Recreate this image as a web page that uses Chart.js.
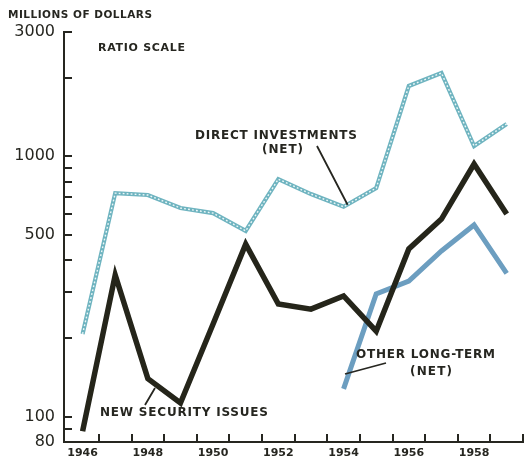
<!DOCTYPE html>
<html><head><meta charset="utf-8">
<script src="https://cdn.jsdelivr.net/npm/chart.js@4/dist/chart.umd.min.js"></script>
<style>html,body{margin:0;padding:0;background:#fff;}canvas{display:block;}</style>
</head><body>
<canvas id="c" width="524" height="456"></canvas>
<script>
const years = [1946,1947,1948,1949,1950,1951,1952,1953,1954,1955,1956,1957,1958,1959];
const newSecurityIssues = [88,350,140,113,227,460,271,259,291,213,441,574,934,600];
const directInvestments = [208,722,710,633,605,517,817,716,640,755,1862,2088,1095,1331];
const otherLongTerm = [null,null,null,null,null,null,null,null,128,296,332,433,545,355];
const yTickValues = [80,90,100,200,300,400,500,600,700,800,900,1000,2000,3000];
const yTickLabels = {80:'80',100:'100',500:'500',1000:'1000',3000:'3000'};
const xLabelYears = [1946,1948,1950,1952,1954,1956,1958];

const INK = '#262620';
const toXY = arr => years.map((yr,i)=>({x:yr, y:arr[i]}));

function fitText(ctx, text, x0, x1, yc, font){
  ctx.font = font;
  ctx.letterSpacing = '0px';
  const w = ctx.measureText(text).width;
  const n = text.length;
  const sp = n>1 ? ((x1-x0)-w)/(n-1) : 0;
  ctx.letterSpacing = sp.toFixed(2)+'px';
  ctx.textAlign = 'left';
  ctx.textBaseline = 'middle';
  ctx.fillText(text, x0, yc);
  ctx.letterSpacing = '0px';
}

const decor = {
  id:'decor',
  afterDraw(chart){
    const ctx = chart.ctx, xs = chart.scales.x, ys = chart.scales.y;
    const a = chart.chartArea;
    ctx.save();
    ctx.strokeStyle = INK; ctx.lineWidth = 2;
    ctx.beginPath();
    yTickValues.forEach(v=>{
      const py = Math.round(ys.getPixelForValue(v));
      ctx.moveTo(a.left, py); ctx.lineTo(a.left+8, py);
    });
    years.forEach(yr=>{
      const px = Math.round(xs.getPixelForValue(yr+0.5));
      ctx.moveTo(px, a.bottom); ctx.lineTo(px, a.bottom-8);
    });
    ctx.stroke();
    ctx.fillStyle = INK;
    fitText(ctx,'MILLIONS OF DOLLARS',8,152,15,'bold 10.5px "DejaVu Sans"');
    fitText(ctx,'RATIO SCALE',98,185,48,'bold 11px "DejaVu Sans"');
    fitText(ctx,'DIRECT INVESTMENTS',195,357,136,'bold 12px "DejaVu Sans"');
    fitText(ctx,'(NET)',262,303,150,'bold 12px "DejaVu Sans"');
    fitText(ctx,'OTHER LONG-TERM',356,495,355,'bold 12px "DejaVu Sans"');
    fitText(ctx,'(NET)',410,452,372,'bold 12px "DejaVu Sans"');
    fitText(ctx,'NEW SECURITY ISSUES',100,268,413,'bold 12px "DejaVu Sans"');
    ctx.lineWidth = 1.8;
    ctx.beginPath();
    ctx.moveTo(317,146); ctx.lineTo(xs.getPixelForValue(1954)+4, ys.getPixelForValue(directInvestments[8])-2);
    ctx.moveTo(345,374); ctx.lineTo(386,363);
    ctx.moveTo(145,405); ctx.lineTo(155,388);
    ctx.stroke();
    ctx.restore();
  }
};

new Chart(document.getElementById('c'), {
  type:'line',
  data:{datasets:[
    {label:'New security issues', data:toXY(newSecurityIssues), borderColor:'#25251a', borderWidth:5.5, pointRadius:0, tension:0, borderJoinStyle:'miter', order:0},
    {label:'Other long-term (net)', data:toXY(otherLongTerm), borderColor:'#6c9ec0', borderWidth:5, pointRadius:0, tension:0, spanGaps:false, order:1},
    {label:'Direct investments overlay', data:toXY(directInvestments), borderColor:'#eef8f8', borderWidth:1.4, borderDash:[1.8,2.2], pointRadius:0, tension:0, order:2},
    {label:'Direct investments (net)', data:toXY(directInvestments), borderColor:'#6fb4c0', borderWidth:4.2, pointRadius:0, tension:0, order:3}
  ]},
  options:{
    responsive:false, animation:false, devicePixelRatio:1,
    layout:{padding:{top:32,right:1,left:0,bottom:0}},
    plugins:{legend:{display:false}, tooltip:{enabled:false}},
    scales:{
      x:{type:'linear', min:1945.43, max:1959.5,
        grid:{display:false, drawTicks:false},
        border:{display:true, color:INK, width:2},
        afterBuildTicks(s){ s.ticks = xLabelYears.map(v=>({value:v})); },
        afterFit(s){ s.height = 14; s.paddingLeft = 0; s.paddingRight = 0; },
        ticks:{padding:6, color:INK, font:{family:'DejaVu Sans', weight:'bold', size:11, lineHeight:1}, maxRotation:0, autoSkip:false, callback:v=>String(v)}
      },
      y:{type:'logarithmic', min:80, max:3000,
        grid:{display:false, drawTicks:false},
        border:{display:true, color:INK, width:2},
        afterBuildTicks(s){ s.ticks = yTickValues.map(v=>({value:v})); },
        afterFit(s){ s.width = 64; s.paddingTop = 0; s.paddingBottom = 0; },
        ticks:{padding:9, color:INK, font:{family:'DejaVu Sans', size:16, lineHeight:1}, autoSkip:false, callback:v=>yTickLabels[v]||''}
      }
    }
  },
  plugins:[decor]
});
</script>
</body></html>
